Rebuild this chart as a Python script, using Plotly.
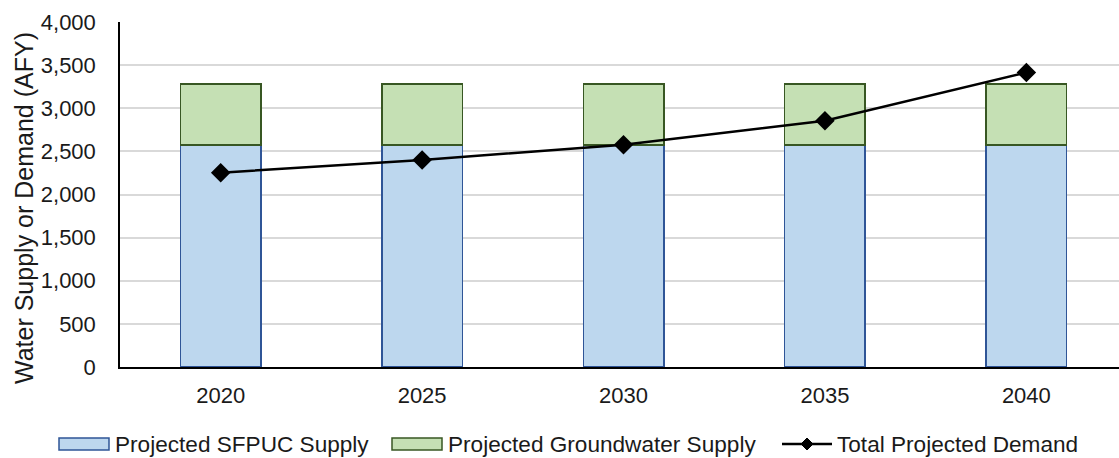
import plotly.graph_objects as go

years = ["2020", "2025", "2030", "2035", "2040"]
sfpuc_supply = [2575, 2575, 2575, 2575, 2575]
groundwater_supply = [705, 705, 705, 705, 705]
total_demand = [2253, 2400, 2578, 2854, 3415]

series_names = ["Projected SFPUC Supply", "Projected Groundwater Supply", "Total Projected Demand"]
y_title = "Water Supply or Demand (AFY)"

font_family = "Liberation Sans, Arial, sans-serif"
text_color = "#1a1a1a"

SFPUC_FILL, SFPUC_EDGE = "#BDD7EE", "#2F5597"
GW_FILL, GW_EDGE = "#C5E0B4", "#385723"

W, H = 1119, 458
M_L, M_R, M_T, M_B = 120, 0, 22, 91
PLOT_W = W - M_L - M_R
PLOT_H = H - M_T - M_B


def px_x(px):
    """Convert a pixel column into paper x."""
    return (px - M_L) / PLOT_W


def px_y(py):
    """Convert a pixel row into paper y."""
    return (H - M_B - py) / PLOT_H


fig = go.Figure()

fig.add_trace(go.Bar(
    x=years, y=sfpuc_supply, name=series_names[0],
    marker=dict(color=SFPUC_FILL, line=dict(color=SFPUC_EDGE, width=1.5)),
    width=0.4,
))
fig.add_trace(go.Bar(
    x=years, y=groundwater_supply, name=series_names[1],
    marker=dict(color=GW_FILL, line=dict(color=GW_EDGE, width=1.5)),
    width=0.4,
))
fig.add_trace(go.Scatter(
    x=years, y=total_demand, name=series_names[2],
    mode="lines+markers",
    line=dict(color="black", width=2.5),
    marker=dict(symbol="diamond", size=15, color="black"),
))

# Legend row drawn below the axis with wide swatches
leg_y = 444
leg_font = dict(size=22.6, color=text_color, family=font_family)
shapes = []
annotations = []

swatches = [(59, 109, SFPUC_FILL, SFPUC_EDGE, series_names[0]),
            (392, 442, GW_FILL, GW_EDGE, series_names[1])]
for x0, x1, fill, edge, label in swatches:
    shapes.append(dict(
        type="rect", xref="paper", yref="paper",
        x0=px_x(x0), x1=px_x(x1), y0=px_y(leg_y + 6), y1=px_y(leg_y - 6),
        fillcolor=fill, line=dict(color=edge, width=1.5), layer="above",
    ))
    annotations.append(dict(
        xref="paper", yref="paper", x=px_x(x1 + 4), y=px_y(leg_y),
        xanchor="left", yanchor="middle", showarrow=False, text=label,
        font=leg_font,
    ))

# line + diamond legend entry
lx0, lx1 = 782, 832
lc = (lx0 + lx1) / 2
shapes.append(dict(
    type="line", xref="paper", yref="paper",
    x0=px_x(lx0), x1=px_x(lx1), y0=px_y(leg_y), y1=px_y(leg_y),
    line=dict(color="black", width=2.5), layer="above",
))
d = 6
shapes.append(dict(
    type="path", xref="paper", yref="paper",
    path=(f"M {px_x(lc - d)} {px_y(leg_y)} L {px_x(lc)} {px_y(leg_y - d)} "
          f"L {px_x(lc + d)} {px_y(leg_y)} L {px_x(lc)} {px_y(leg_y + d)} Z"),
    fillcolor="black", line=dict(color="black", width=1), layer="above",
))
annotations.append(dict(
    xref="paper", yref="paper", x=px_x(lx1 + 3), y=px_y(leg_y),
    xanchor="left", yanchor="middle", showarrow=False, text=series_names[2],
    font=leg_font,
))

# vertical axis title
annotations.append(dict(
    xref="paper", yref="paper", x=px_x(24), y=px_y(208),
    xanchor="center", yanchor="middle", showarrow=False, text=y_title,
    textangle=-90, font=dict(size=25, color=text_color, family=font_family),
))

fig.update_layout(
    width=W, height=H,
    barmode="stack",
    plot_bgcolor="white", paper_bgcolor="white",
    margin=dict(l=M_L, r=M_R, t=M_T, b=M_B),
    font=dict(family=font_family, size=22, color=text_color),
    showlegend=False,
    shapes=shapes,
    annotations=annotations,
    xaxis=dict(
        type="category", range=[-0.5, 4.46],
        showline=True, linecolor="black", linewidth=1.5,
        showgrid=False, ticks="", ticklabelstandoff=8,
        tickfont=dict(size=22),
    ),
    yaxis=dict(
        range=[0, 4000], dtick=500, tickformat=",d",
        showline=True, linecolor="black", linewidth=1.5,
        showgrid=True, gridcolor="#D9D9D9", gridwidth=1.5,
        ticks="", ticklabelstandoff=18,
        tickfont=dict(size=22),
        zeroline=False,
    ),
)

fig.write_html("out.html")
